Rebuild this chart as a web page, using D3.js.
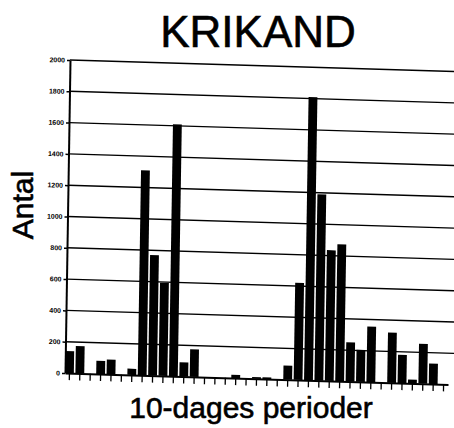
<!DOCTYPE html>
<html>
<head>
  <meta charset="utf-8">
  <title>KRIKAND</title>
  <style>
    body { margin: 0; background: #fff; }
    svg { display: block; }
    text { font-family: "Liberation Sans", Arial, sans-serif; fill: #000; }
    .lbl { stroke: #000; stroke-width: 0.6px; }
  </style>
</head>
<body>
  <svg width="454" height="428"></svg>
  <script src="https://cdn.jsdelivr.net/npm/d3@7"></script>
  <script>
  // data: antal per 10-dages periode
  var periods = [1, 2, 3, 4, 5, 6, 7, 8, 9, 10, 11, 12, 13, 14, 15, 16, 17, 18, 19,
    20, 21, 22, 23, 24, 25, 26, 27, 28, 29, 30, 31, 32, 33, 34, 35, 36, 37];
  var counts = [140, 175, 0, 85, 95, 0, 40, 1310, 770, 595, 1610, 90, 175, 0, 0, 0, 20, 0, 10,
    10, 0, 90, 620, 1810, 1190, 835, 875, 250, 205, 355, 0, 320, 180, 25, 255, 130, 0];
  var yTicks = [0, 200, 400, 600, 800, 1000, 1200, 1400, 1600, 1800, 2000];

  var svg = d3.select("svg");

  svg.append("text")
    .attr("class", "lbl")
    .attr("x", 258).attr("y", 47)
    .attr("text-anchor", "middle")
    .style("font-size", "44px")
    .text("KRIKAND");

  svg.append("text")
    .attr("class", "lbl")
    .attr("transform", "translate(33,205) rotate(-90)")
    .attr("text-anchor", "middle")
    .style("font-size", "30px")
    .text("Antal");

  svg.append("text")
    .attr("class", "lbl")
    .attr("x", 251).attr("y", 418)
    .attr("text-anchor", "middle")
    .style("font-size", "30px")
    .text("10-dages perioder");

  // the scanned chart is a little skewed, so the plot gets a shear matrix
  var g = svg.append("g")
    .attr("transform", "matrix(1,0.03,-0.016,1,65,373)");

  var x = d3.scaleBand()
    .domain(periods)
    .range([0, 383])
    .paddingInner(0.15);

  var y = d3.scaleLinear()
    .domain([0, 2000])
    .range([0, -313]);

  // grid lines
  g.selectAll("line.grid")
    .data(yTicks.slice(1))
    .enter()
    .append("line")
    .attr("class", "grid")
    .attr("x1", 0).attr("x2", 400)
    .attr("y1", function(d) { return y(d); })
    .attr("y2", function(d) { return y(d); })
    .attr("stroke", "#000")
    .attr("stroke-width", 1.4);

  // bars
  g.selectAll("rect")
    .data(counts)
    .enter()
    .append("rect")
    .attr("x", function(d, i) { return x(periods[i]); })
    .attr("width", x.bandwidth())
    .attr("y", function(d) { return y(d); })
    .attr("height", function(d) { return y(0) - y(d); })
    .attr("fill", "#000");

  // x axis with hanging ticks, no labels
  var xAxis = g.append("g")
    .call(d3.axisBottom(x).tickSize(7).tickSizeOuter(0).tickFormat(""));
  xAxis.select(".domain").attr("stroke-width", 2);
  xAxis.selectAll(".tick line").attr("stroke-width", 1.3);

  // y axis
  var yAxis = g.append("g")
    .call(d3.axisLeft(y).tickValues(yTicks).tickFormat(d3.format("d"))
      .tickSize(3).tickSizeOuter(0).tickPadding(2));
  yAxis.select(".domain").attr("stroke-width", 2);
  yAxis.selectAll(".tick line").attr("stroke-width", 1.5);
  yAxis.selectAll(".tick text")
    .style("font-family", "'Liberation Sans', Arial, sans-serif")
    .style("font-size", "7px")
    .style("font-weight", "bold");
  </script>
</body>
</html>
